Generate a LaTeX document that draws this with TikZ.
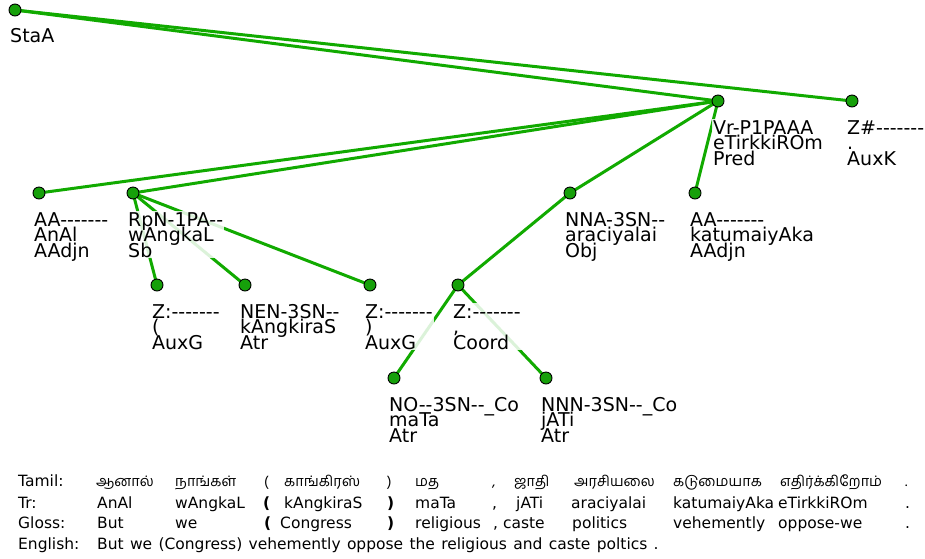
\documentclass[tikz,border=0pt]{standalone}
\usepackage{fontspec}
\newfontfamily\dv{DejaVu Sans}
\newfontfamily\tamilfont[Script=Tamil]{Hind Madurai}
\usetikzlibrary{backgrounds}
\definecolor{edgegreen}{RGB}{17,170,0}
\definecolor{dotgreen}{RGB}{22,160,10}
\newcommand\tlbl[3]{\vtop{\baselineskip=15.5pt\lineskiplimit=-20pt\lineskip=0pt\hbox{#1}\hbox{#2}\hbox{#3}}}
\begin{document}
\begin{tikzpicture}[x=1pt,y=-1pt,
  dot/.style={circle,draw=black,line width=0.9pt,fill=dotgreen,minimum size=12pt,inner sep=0pt},
  edge/.style={draw=edgegreen,line width=3pt},
  lbl/.style={anchor=base west,inner sep=1pt,fill=white,fill opacity=0.85,text opacity=1,font=\dv\fontsize{19}{15.5}\selectfont},
  row/.style={anchor=base west,inner sep=0pt,font=\dv\fontsize{15.5}{18}\selectfont},
  trow/.style={anchor=base west,inner sep=0pt,font=\fontsize{14.5}{18}\selectfont\tamilfont}]
\useasboundingbox (0,0) rectangle (925,558);
% tree nodes
\node[dot] (sta) at (15,10) {};
\node[dot] (vr) at (718,101) {};
\node[dot] (zh) at (852,101) {};
\node[dot] (aa1) at (39,193) {};
\node[dot] (rpn) at (133,193) {};
\node[dot] (nna) at (570,193) {};
\node[dot] (aa2) at (695,193) {};
\node[dot] (zl) at (157,285) {};
\node[dot] (nen) at (245,285) {};
\node[dot] (zr) at (370,285) {};
\node[dot] (zc) at (458,285) {};
\node[dot] (no) at (394,378) {};
\node[dot] (nnn) at (546,378) {};
% edges
\begin{pgfonlayer}{background}
\draw[edge] (sta.center) -- (vr.center);
\draw[edge] (sta.center) -- (zh.center);
\draw[edge] (vr.center) -- (aa1.center);
\draw[edge] (vr.center) -- (rpn.center);
\draw[edge] (vr.center) -- (nna.center);
\draw[edge] (vr.center) -- (aa2.center);
\draw[edge] (rpn.center) -- (zl.center);
\draw[edge] (rpn.center) -- (nen.center);
\draw[edge] (rpn.center) -- (zr.center);
\draw[edge] (nna.center) -- (zc.center);
\draw[edge] (zc.center) -- (no.center);
\draw[edge] (zc.center) -- (nnn.center);
\end{pgfonlayer}
% labels
\node[lbl] (lsta) at (9,42) {StaA};
\node[lbl] (lvr) at (712,134) {\tlbl{Vr-P1PAAA}{eTirkkiROm}{Pred}};
\node[lbl] (lzh) at (846,134) {\tlbl{Z\#-------}{.}{AuxK}};
\node[lbl] (laa1) at (33,226) {\tlbl{AA-------}{AnAl}{AAdjn}};
\node[lbl] (lrpn) at (127,226) {\tlbl{RpN-1PA--}{wAngkaL}{Sb}};
\node[lbl] (lnna) at (564,226) {\tlbl{NNA-3SN--}{araciyalai}{Obj}};
\node[lbl] (laa2) at (689,226) {\tlbl{AA-------}{katumaiyAka}{AAdjn}};
\node[lbl] (lzl) at (151,318) {\tlbl{Z:-------}{(}{AuxG}};
\node[lbl] (lnen) at (239,318) {\tlbl{NEN-3SN--}{kAngkiraS}{Atr}};
\node[lbl] (lzr) at (364,318) {\tlbl{Z:-------}{)}{AuxG}};
\node[lbl] (lzc) at (452,318) {\tlbl{Z:-------}{,}{Coord}};
\node[lbl] (lno) at (388,411) {\tlbl{NO--3SN--\_Co}{maTa}{Atr}};
\node[lbl] (lnnn) at (540,411) {\tlbl{NNN-3SN--\_Co}{jATi}{Atr}};
% bottom rows
\node[row] (tamh) at (18,486) {Tamil:};
\node[trow] (t1) at (96,486) {ஆனால்};
\node[trow] (t2) at (175,486) {நாங்கள்};
\node[trow] (t3) at (264,486) {(};
\node[trow] (t4) at (284,486) {காங்கிரஸ்};
\node[trow] (t5) at (387,486) {)};
\node[trow] (t6) at (415,486) {மத};
\node[trow] (t7) at (492,486) {,};
\node[trow] (t8) at (514,486) {ஜாதி};
\node[trow] (t9) at (574,486) {அரசியலை};
\node[trow] (t10) at (673,486) {கடுமையாக};
\node[trow] (t11) at (780,486) {எதிர்க்கிறோம்};
\node[trow] (t12) at (905,486) {.};
\node[row] (trh) at (18,508) {Tr:};
\node[row] (r1) at (97,508) {AnAl};
\node[row] (r2) at (175,508) {wAngkaL};
\node[row] (r3) at (263,508) {\textbf{(}};
\node[row] (r4) at (284,508) {kAngkiraS};
\node[row] (r5) at (387,508) {\textbf{)}};
\node[row] (r6) at (415,508) {maTa};
\node[row] (r7) at (492,508) {,};
\node[row] (r8) at (516,508) {jATi};
\node[row] (r9) at (571,508) {araciyalai};
\node[row] (r10) at (673,508) {katumaiyAka};
\node[row] (r11) at (778,508) {eTirkkiROm};
\node[row] (r12) at (905,508) {.};
\node[row] (glh) at (18,528) {Gloss:};
\node[row] (g1) at (97,528) {But};
\node[row] (g2) at (175,528) {we};
\node[row] (g3) at (264,528) {\textbf{(}};
\node[row] (g4) at (280,528) {Congress};
\node[row] (g5) at (387,528) {\textbf{)}};
\node[row] (g6) at (415,528) {religious};
\node[row] (g7) at (493,528) {, caste};
\node[row] (g8) at (572,528) {politics};
\node[row] (g9) at (673,528) {vehemently};
\node[row] (g10) at (778,528) {oppose-we};
\node[row] (g11) at (905,528) {.};
\node[row] (enh) at (18,549) {English:};
\node[row] (en) at (97,549) {\spaceskip=6.3pt But we (Congress) vehemently oppose the religious and caste poltics .};
\end{tikzpicture}
\end{document}
